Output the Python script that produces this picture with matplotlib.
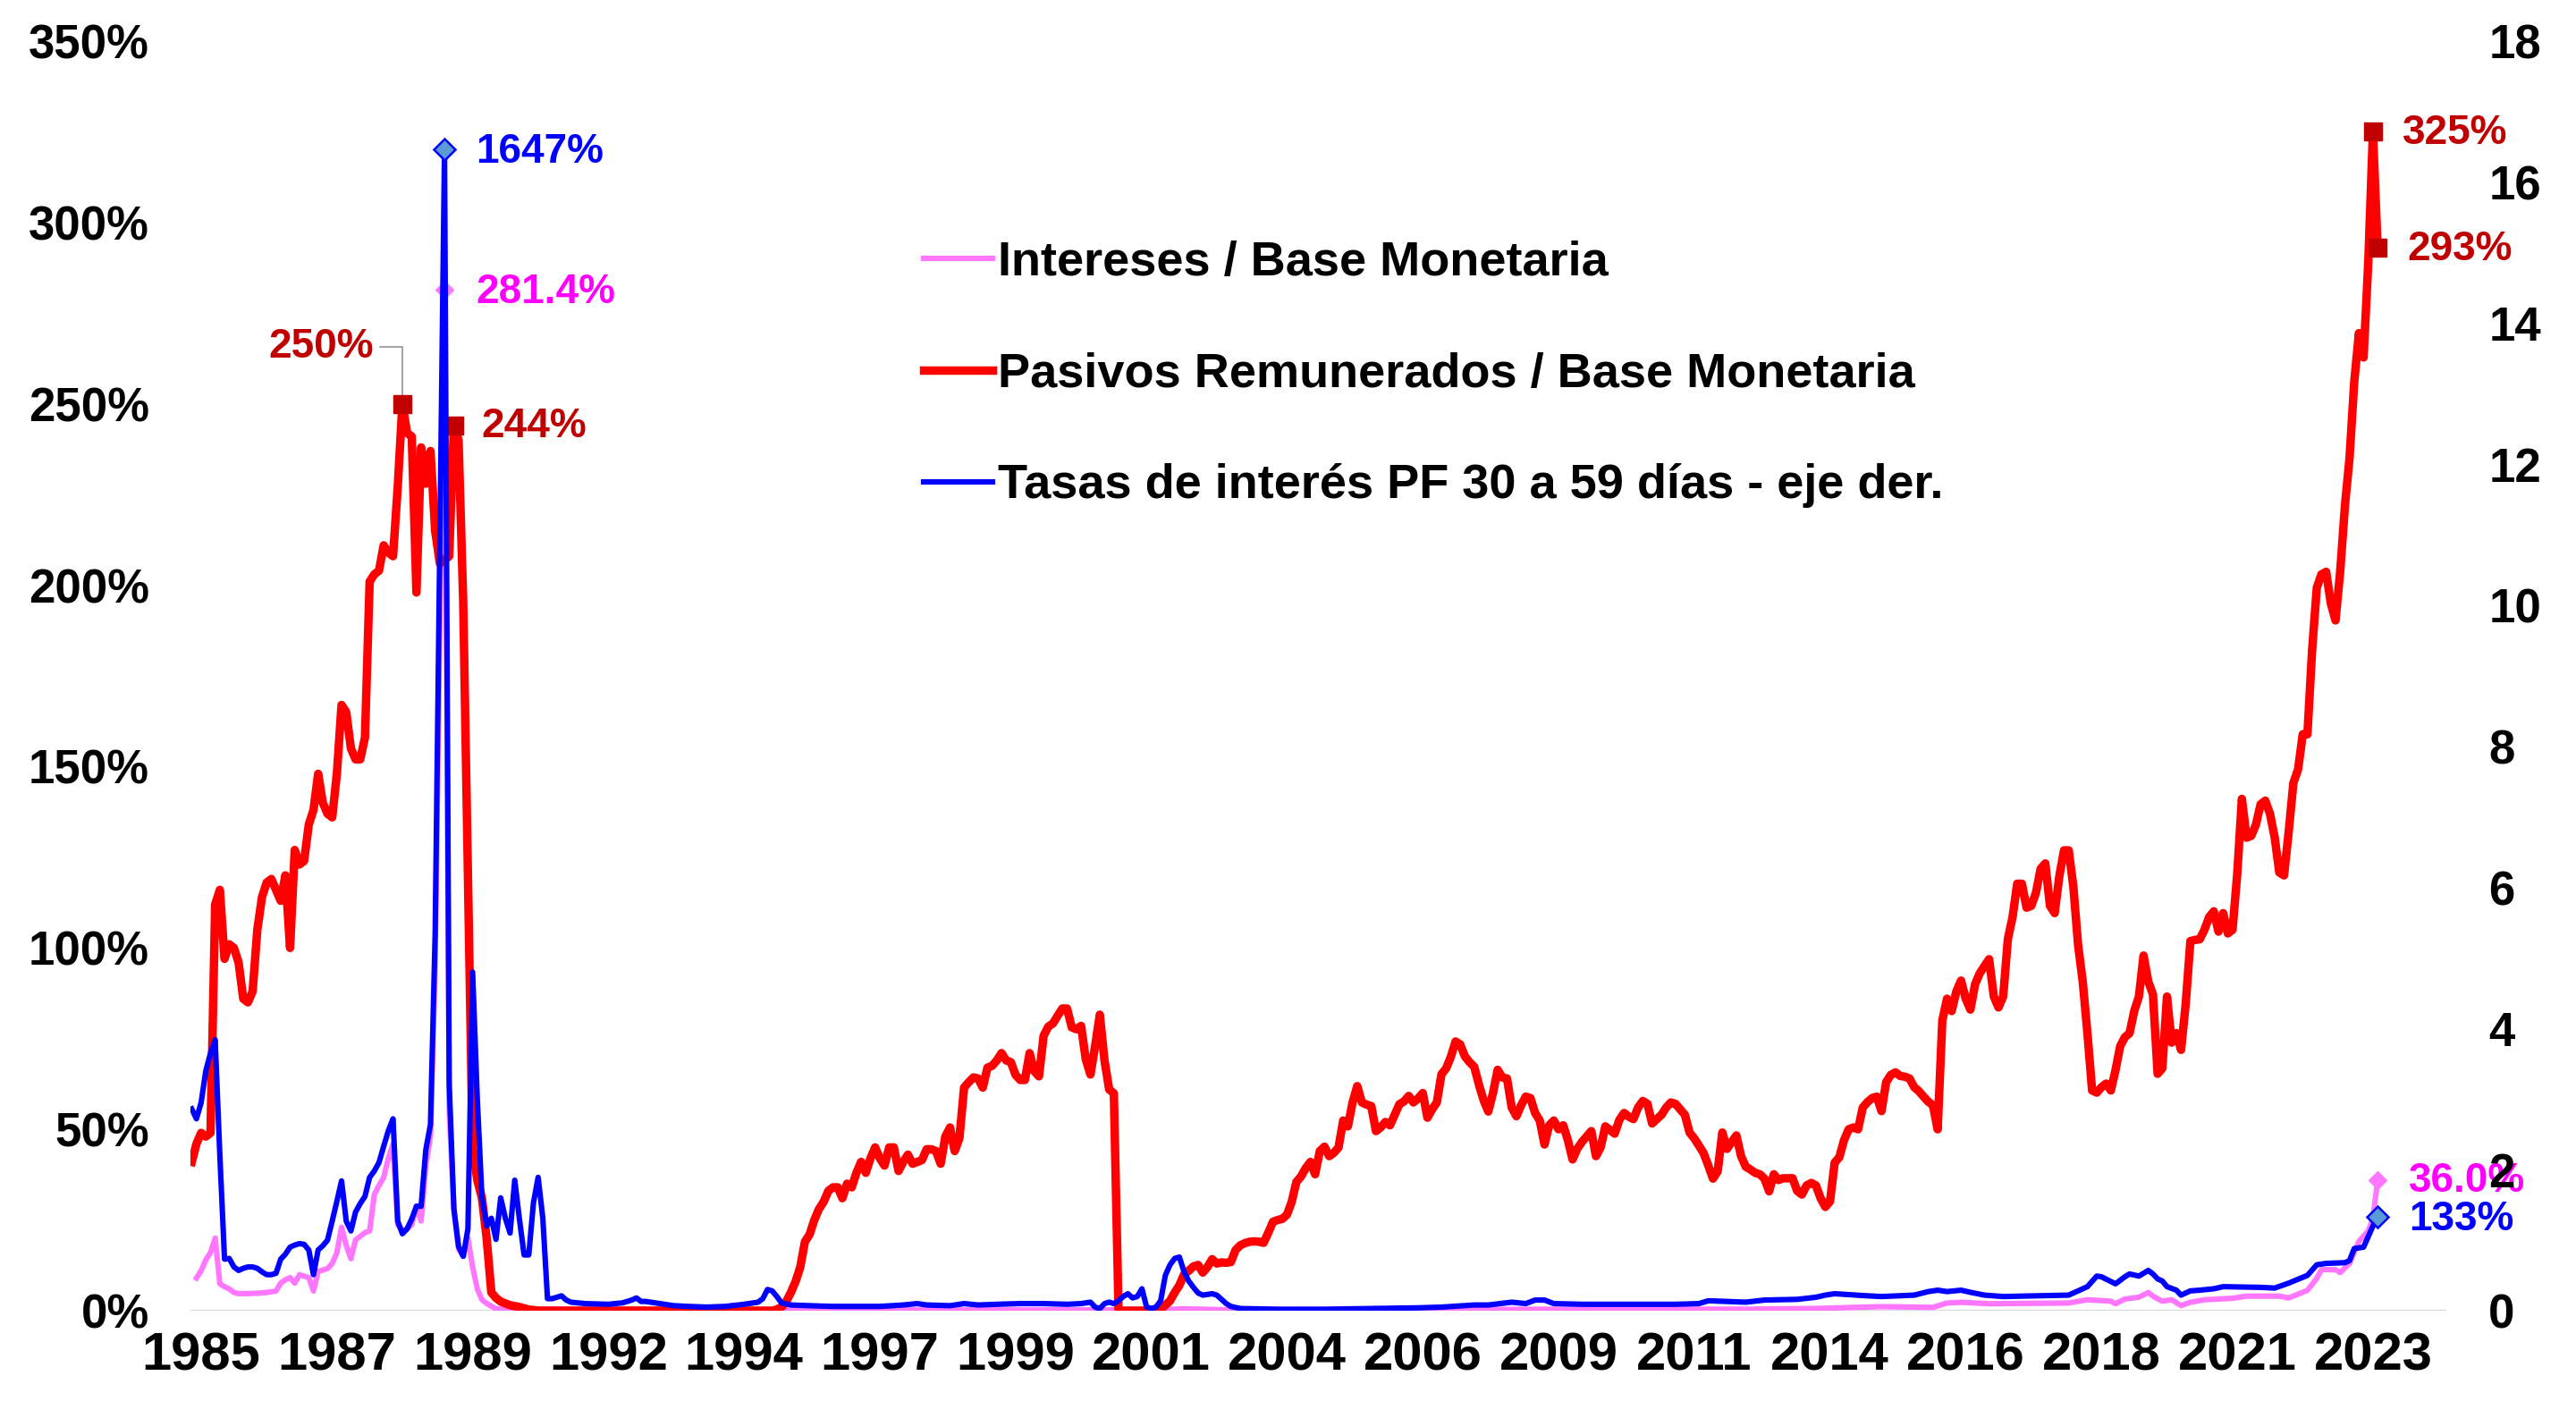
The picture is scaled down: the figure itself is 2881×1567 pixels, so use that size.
import matplotlib
matplotlib.use("Agg")
import matplotlib.pyplot as plt
import numpy as np

plt.rcParams['font.family'] = ['Liberation Sans', 'DejaVu Sans']
plt.rcParams['font.weight'] = 'bold'

# month index: 0 = Jan 1985
pasivos_mes = [-2, -1, 0, 1, 2, 3, 4, 5, 6, 7, 8, 9, 10, 11, 12, 13, 14, 15, 16, 17, 18, 19, 20,
               21, 22, 23, 24, 25, 26, 27, 28, 29, 30, 31, 32, 33, 34, 35, 36, 37, 38, 39, 40, 41,
               42, 43, 44, 45, 46, 47, 48, 49, 50, 51, 52, 53, 54, 55, 56, 57, 58, 59, 60, 61, 62,
               63, 64, 65, 66, 68, 70, 72, 122, 123, 124, 125, 126, 127, 128, 129, 130, 131, 132,
               133, 134, 135, 136, 137, 138, 139, 140, 141, 142, 143, 144, 145, 146, 147, 148, 149,
               150, 151, 152, 153, 154, 155, 156, 157, 158, 159, 160, 161, 162, 163, 164, 165, 166,
               167, 168, 169, 170, 171, 172, 173, 174, 175, 176, 177, 178, 179, 180, 181, 182, 183,
               184, 185, 186, 187, 188, 189, 190, 191, 192, 193, 194, 195, 196, 204, 205, 206, 207,
               208, 209, 210, 211, 212, 213, 214, 215, 216, 217, 218, 219, 220, 221, 222, 223, 224,
               225, 226, 227, 228, 229, 230, 231, 232, 233, 234, 235, 236, 237, 238, 239, 240, 241,
               242, 243, 244, 245, 246, 247, 248, 249, 250, 251, 252, 253, 254, 255, 256, 257, 258,
               259, 260, 261, 262, 263, 264, 265, 266, 267, 268, 269, 270, 271, 272, 273, 274, 275,
               276, 277, 278, 279, 280, 281, 282, 283, 284, 285, 286, 287, 288, 289, 290, 291, 292,
               293, 294, 295, 296, 297, 298, 299, 300, 301, 302, 303, 304, 305, 306, 307, 308, 309,
               310, 311, 312, 313, 314, 315, 316, 317, 318, 319, 320, 321, 322, 323, 324, 325, 326,
               327, 328, 329, 330, 331, 332, 333, 334, 335, 336, 337, 338, 339, 340, 341, 342, 343,
               344, 345, 346, 347, 348, 349, 350, 351, 352, 353, 354, 355, 356, 357, 358, 359, 360,
               361, 362, 363, 364, 365, 366, 367, 368, 369, 370, 371, 372, 373, 374, 375, 376, 377,
               378, 379, 380, 381, 382, 383, 384, 385, 386, 387, 388, 389, 390, 391, 392, 393, 394,
               395, 396, 397, 398, 399, 400, 401, 402, 403, 404, 405, 406, 407, 408, 409, 410, 411,
               412, 413, 414, 415, 416, 417, 418, 419, 420, 421, 422, 423, 424, 425, 426, 427, 428,
               429, 430, 431, 432, 433, 434, 435, 436, 437, 438, 439, 440, 441, 442, 443, 444, 445,
               446, 447, 448, 449, 450, 451, 452, 453, 454, 455, 456, 457, 458, 459, 460, 461, 462,
               463, 464, 465]
pasivos_pct = [41, 46, 49, 48, 49, 112, 116, 97, 101, 100, 96, 86, 85, 88, 105, 114, 118, 119, 116,
               113, 120, 100, 127, 123, 124, 134, 138, 148, 140, 137, 136, 148, 167, 165, 155, 152,
               152, 158, 201, 203, 204, 211, 209, 208, 227, 250, 242, 241, 198, 238, 228, 237, 215,
               206, 207, 208, 244, 240, 195, 120, 45, 36, 31, 20, 5, 3.5, 2.5, 2, 1.5, 1, 0.3, 0,
               0, 0.3, 1, 2.5, 5, 8, 12, 19, 21, 25, 28, 30, 33, 34, 34, 31, 35, 34, 38, 41, 38, 42,
               45, 42, 40, 45, 45, 38.5, 41, 43, 40.5, 41, 41.5, 44.5, 44.5, 44, 40.5, 48, 50.5, 44,
               47.5, 61.5, 63, 64.3, 64, 61.5, 67, 67.5, 69, 71, 69, 68.5, 65, 63.6, 63.6, 71, 66,
               64.6, 75.8, 78.3, 79.2, 81.3, 83.3, 83.3, 78.1, 77.6, 78.5, 69.3, 65.1, 73, 81.6, 69,
               61, 59.9, 0, 0, 0.5, 1.5, 2.7, 5, 7, 10, 11, 12.2, 12.6, 10.5, 12, 14.2, 13, 13.3,
               13.2, 13.4, 16.7, 18, 18.6, 19, 19.1, 19, 18.7, 21.5, 24.5, 25, 25.3, 26.5, 30, 35.5,
               37, 39.3, 41, 37.6, 44, 45.2, 42.6, 43.5, 45, 52.4, 50.8, 57.4, 61.9, 57.4, 56.8,
               56.4, 49.5, 50.5, 52, 51.1, 54, 56.9, 57.7, 59.2, 57.4, 58.5, 60, 53.2, 55.5, 57.4,
               65.2, 66.8, 70, 74.2, 73.4, 70.1, 68.5, 67.2, 62.3, 58, 54.9, 60, 66.4, 64.3, 64, 56,
               53.6, 56.6, 59, 58.6, 54.5, 52.4, 45.8, 51.1, 52.4, 50, 51.1, 47, 41.7, 44.6, 46.5,
               48, 49.5, 42.6, 45, 50.8, 49.8, 48.8, 52.6, 54.5, 53.5, 52.8, 56, 57.8, 57, 51.6,
               52.8, 54, 56, 57.4, 57, 55.5, 54, 49.1, 47.5, 45.5, 43.4, 40, 36.4, 38.4, 49.1, 44.6,
               46.5, 48.3, 42.6, 39.7, 38.9, 38, 37.6, 36.4, 32.9, 37.6, 36, 36.5, 36.5, 36.5, 33,
               32, 34.5, 35.2, 34.5, 31, 28.6, 30.1, 40.8, 42.3, 47, 50, 50.5, 50, 56, 57.5, 58.6,
               59, 55, 63, 65, 65.7, 64.7, 64.5, 64, 61.6, 60.5, 59, 57.6, 56.6, 50, 80, 86, 82.6,
               88, 91, 86, 83, 90, 93, 95, 96.9, 86.6, 83.6, 86.6, 102.4, 108.5, 117.7, 117.7,
               111.1, 111.6, 115.2, 121.8, 123.3, 111.6, 109.6, 119.8, 126.9, 126.9, 116.8, 100.9,
               90.7, 76.5, 60.7, 60.1, 61.6, 62.6, 60.7, 66.3, 72.9, 75.4, 76.5, 82.6, 86.6, 97.9,
               90.7, 87.2, 65.3, 66.8, 86.6, 73.9, 76.5, 71.9, 84.6, 101.9, 102.2, 102.4, 105,
               108.5, 110.1, 104.5, 109.6, 104, 105, 120.3, 141.1, 130.4, 130.9, 134, 139.6, 140.6,
               137, 130.5, 120.8, 120, 132, 145.5, 149.2, 158.9, 158.9, 182, 199.3, 203, 203.7, 195,
               190.3, 203.7, 221.7, 235.1, 256, 269.5, 262.8, 289, 325, 293]

tasa_mes = [-2, -1, 0, 1, 2, 3, 4, 5, 6, 7, 8, 9, 10, 11, 12, 13, 14, 15, 16, 17, 18, 19, 20, 21,
            22, 23, 24, 25, 26, 27, 28, 29, 30, 31, 32, 33, 34, 35, 36, 37, 38, 39, 40, 41, 42, 43,
            44, 45, 46, 47, 48, 49, 50, 51, 52, 53, 54, 55, 56, 57, 58, 59, 60, 61, 62, 63, 64, 65,
            66, 67, 68, 69, 70, 71, 72, 73, 74, 75, 76, 77, 78, 79, 82, 87, 90, 92, 93, 94, 95, 98,
            101, 104, 108, 112, 116, 119, 120, 121, 122, 123, 124, 126, 130, 135, 140, 145, 150,
            153, 155, 160, 163, 166, 170, 175, 180, 185, 188, 190, 191, 192, 193, 194, 195, 196,
            197, 198, 199, 200, 201, 202, 203, 204, 205, 206, 207, 208, 209, 210, 211, 212, 213,
            214, 216, 217, 218, 219, 220, 222, 230, 240, 250, 260, 265, 272, 275, 280, 283, 285,
            287, 289, 295, 305, 315, 320, 322, 330, 334, 341, 345, 347, 349, 356, 359, 366, 369,
            371, 373, 376, 378, 381, 385, 392, 399, 401, 403, 405, 406, 409, 411, 412, 414, 416,
            417, 418, 419, 420, 422, 423, 425, 427, 430, 432, 440, 443, 446, 450, 452, 454, 458,
            459, 460, 462, 463, 464, 465]
tasa_val = [2.86, 2.72, 2.95, 3.4, 3.65, 3.84, 2.2, 0.73, 0.74, 0.62, 0.57, 0.6, 0.62, 0.62, 0.6,
            0.55, 0.51, 0.51, 0.53, 0.73, 0.8, 0.9, 0.93, 0.95, 0.94, 0.86, 0.51, 0.86, 0.92, 1.0,
            1.27, 1.55, 1.84, 1.27, 1.13, 1.4, 1.52, 1.62, 1.89, 1.98, 2.1, 2.33, 2.55, 2.72, 1.27,
            1.09, 1.16, 1.3, 1.48, 1.48, 2.28, 2.64, 5.35, 10.9, 16.47, 3.22, 1.44, 0.91, 0.77,
            1.16, 4.8, 3.0, 1.6, 1.2, 1.31, 1.01, 1.6, 1.31, 1.1, 1.85, 1.3, 0.79, 0.79, 1.53,
            1.89, 1.31, 0.17, 0.17, 0.19, 0.21, 0.15, 0.12, 0.1, 0.09, 0.11, 0.15, 0.18, 0.13,
            0.13, 0.1, 0.07, 0.06, 0.05, 0.06, 0.09, 0.12, 0.17, 0.3, 0.28, 0.2, 0.11, 0.08, 0.07,
            0.06, 0.06, 0.06, 0.08, 0.1, 0.08, 0.07, 0.1, 0.08, 0.09, 0.1, 0.1, 0.09, 0.1, 0.12,
            0.05, 0.03, 0.1, 0.12, 0.1, 0.14, 0.2, 0.24, 0.18, 0.2, 0.31, 0.05, 0.03, 0.05, 0.14,
            0.5, 0.65, 0.74, 0.76, 0.55, 0.42, 0.33, 0.25, 0.22, 0.24, 0.22, 0.16, 0.1, 0.06,
            0.03, 0.02, 0.02, 0.03, 0.04, 0.05, 0.08, 0.08, 0.12, 0.1, 0.15, 0.15, 0.1, 0.09,
            0.09, 0.09, 0.1, 0.14, 0.12, 0.15, 0.16, 0.19, 0.22, 0.24, 0.21, 0.2, 0.22, 0.27,
            0.29, 0.27, 0.29, 0.26, 0.22, 0.2, 0.21, 0.22, 0.28, 0.34, 0.49, 0.48, 0.38, 0.48,
            0.52, 0.49, 0.57, 0.52, 0.45, 0.42, 0.34, 0.29, 0.22, 0.28, 0.29, 0.31, 0.34, 0.33,
            0.32, 0.39, 0.5, 0.65, 0.67, 0.68, 0.71, 0.88, 0.9, 1.05, 1.2, 1.33]

intereses_mes = [-1, 0, 1, 2, 3, 4, 5, 6, 7, 8, 10, 12, 14, 16, 17, 18, 19, 20, 21, 22, 23, 24,
                 25, 26, 27, 28, 29, 30, 31, 32, 33, 34, 35, 36, 37, 38, 39, 40, 41, 42, 43, 44,
                 45, 46, 47, 48, 49, 50, 51, 52, 53, 54, 55, 56, 57, 58, 59, 60, 61, 63, 70, 122,
                 196, 206, 210, 220, 260, 300, 330, 345, 359, 370, 373, 376, 382, 399, 403, 408,
                 409, 411, 414, 416, 417, 419, 421, 423, 425, 428, 434, 437, 444, 446, 450, 452,
                 453, 456, 457, 459, 461, 463, 464, 465]
intereses_pct = [9, 11, 14, 16, 20, 7.4, 6.6, 6, 5, 4.7, 4.7, 4.8, 5, 5.4, 7.6, 8.5, 9.1, 7.6,
                 9.9, 9.5, 9.1, 5.4, 10.8, 11.2, 11.6, 13, 16, 23, 18, 14.3, 19.5, 20.5, 21.5, 22,
                 32, 34.5, 36.7, 42, 46, 23.7, 22, 22.5, 23.7, 28.8, 24.7, 40, 48, 95, 190, 281.4,
                 55, 28, 17, 15, 20, 12, 6, 3, 2, 0.5, 0.3, 0.2, 0.2, 0.3, 0.5, 0.2, 0.3, 0.4, 0.4,
                 0.6, 1.1, 0.9, 2.1, 2.3, 1.9, 2.1, 3.0, 2.6, 1.9, 3.2, 3.7, 5.0, 4.0, 2.6, 3.0,
                 1.4, 2.3, 3.0, 3.4, 4.0, 4.0, 3.5, 5.6, 8.9, 11.3, 11.3, 10.5, 13, 19.1, 22, 25.4,
                 36.0]

nombres = ['Intereses / Base Monetaria',
           'Pasivos Remunerados / Base Monetaria',
           'Tasas de interés PF 30 a 59 días - eje der.']

ROSA = '#FF77FF'
ROJO = '#FF0000'
AZUL = '#0000FF'
ROJO_OSC = '#C00000'
MAGENTA = '#FF00FF'

fig = plt.figure(figsize=(28.81, 15.67), dpi=100)
ax = fig.add_axes([0.0739, 0.0645, 0.8758, 0.9061])
ax2 = ax.twinx()

l1, = ax.plot(intereses_mes, intereses_pct, color=ROSA, lw=4.4, label=nombres[0], zorder=2,
              solid_joinstyle='round')
l2, = ax.plot(pasivos_mes, pasivos_pct, color=ROJO, lw=6.8, label=nombres[1], zorder=3,
              solid_joinstyle='round')
l3, = ax2.plot(tasa_mes, tasa_val, color=AZUL, lw=4.4, label=nombres[2], zorder=4,
               solid_joinstyle='round')

ax.set_xlim(-2.3, 479.7)
ax.set_ylim(0, 350)
ax2.set_ylim(0, 18)

ticks_x = np.arange(0, 466, 29)
ax.set_xticks(ticks_x)
ax.set_xticklabels([str(1985 + t // 12) for t in ticks_x])
ax.set_yticks(np.arange(0, 351, 50))
ax.set_yticklabels([f'{v}%' for v in range(0, 351, 50)])
ax2.set_yticks(np.arange(0, 19, 2))

ax.tick_params(axis='x', length=0, pad=17, labelsize=43)
ax.tick_params(axis='y', length=0, pad=33, labelsize=38)
ax2.tick_params(axis='y', length=0, pad=34, labelsize=38)

for a in (ax, ax2):
    for s in ('top', 'left', 'right', 'bottom'):
        a.spines[s].set_visible(False)
ax.axhline(0, color='#D9D9D9', lw=2.5, zorder=1)

# markers and labels
ann = dict(fontsize=33, fontweight='bold', va='center', ha='left', textcoords='offset points')

i_max89 = int(np.argmax(pasivos_pct[:60]))
ax.plot(pasivos_mes[i_max89], pasivos_pct[i_max89], 's', color=ROJO_OSC, ms=14, zorder=5)
ax.annotate('250%', xy=(pasivos_mes[i_max89], pasivos_pct[i_max89]), xytext=(-23, 46),
            color=ROJO_OSC, fontsize=33, fontweight='bold', va='center', ha='right',
            textcoords='offset points',
            arrowprops=dict(arrowstyle='-', color='#A6A6A6', lw=1.5, shrinkA=3, shrinkB=7,
                            connectionstyle='angle,angleA=0,angleB=90,rad=0'))
i_244 = pasivos_mes.index(54)
ax.plot(pasivos_mes[i_244], pasivos_pct[i_244], 's', color=ROJO_OSC, ms=14, zorder=5)
ax.annotate('244%', xy=(pasivos_mes[i_244], pasivos_pct[i_244]), xytext=(22, -1),
            color=ROJO_OSC, **ann)
for k, txt in ((-2, '325%'), (-1, '293%')):
    ax.plot(pasivos_mes[k], pasivos_pct[k], 's', color=ROJO_OSC, ms=14, zorder=5)
    ax.annotate(txt, xy=(pasivos_mes[k], pasivos_pct[k]), xytext=(24, -1), color=ROJO_OSC, **ann)

i_pk = int(np.argmax(intereses_pct))
ax.plot(intereses_mes[i_pk], intereses_pct[i_pk], 'D', color=ROSA, ms=10, zorder=5)
ax.annotate('281.4%', xy=(intereses_mes[i_pk], intereses_pct[i_pk]), xytext=(25, -2),
            color=MAGENTA, **ann)
ax.plot(intereses_mes[-1], intereses_pct[-1], 'D', color=ROSA, ms=10, zorder=5)
ax.annotate('36.0%', xy=(intereses_mes[-1], intereses_pct[-1]), xytext=(25, -1),
            color=MAGENTA, **ann)

j_pk = int(np.argmax(tasa_val))
ax2.plot(tasa_mes[j_pk], tasa_val[j_pk], 'D', mfc='#5B9BD5', mec=AZUL, mew=1.8, ms=12, zorder=6)
ax2.annotate('1647%', xy=(tasa_mes[j_pk], tasa_val[j_pk]), xytext=(25, -2), color=AZUL, **ann)
ax2.plot(tasa_mes[-1], tasa_val[-1], 'D', mfc='#5B9BD5', mec=AZUL, mew=1.8, ms=12, zorder=6)
ax2.annotate('133%', xy=(tasa_mes[-1], tasa_val[-1]), xytext=(25, -2), color=AZUL, **ann)

leg = ax2.legend(handles=[l1, l2, l3], loc='upper left', bbox_to_anchor=(0.325, 0.843),
                 frameon=False, fontsize=39, handlelength=1.42, handletextpad=0.12,
                 labelspacing=1.38, borderpad=0, borderaxespad=0)
for t in leg.get_texts():
    t.set_fontweight('bold')

fig.savefig('out.png', dpi=100)
